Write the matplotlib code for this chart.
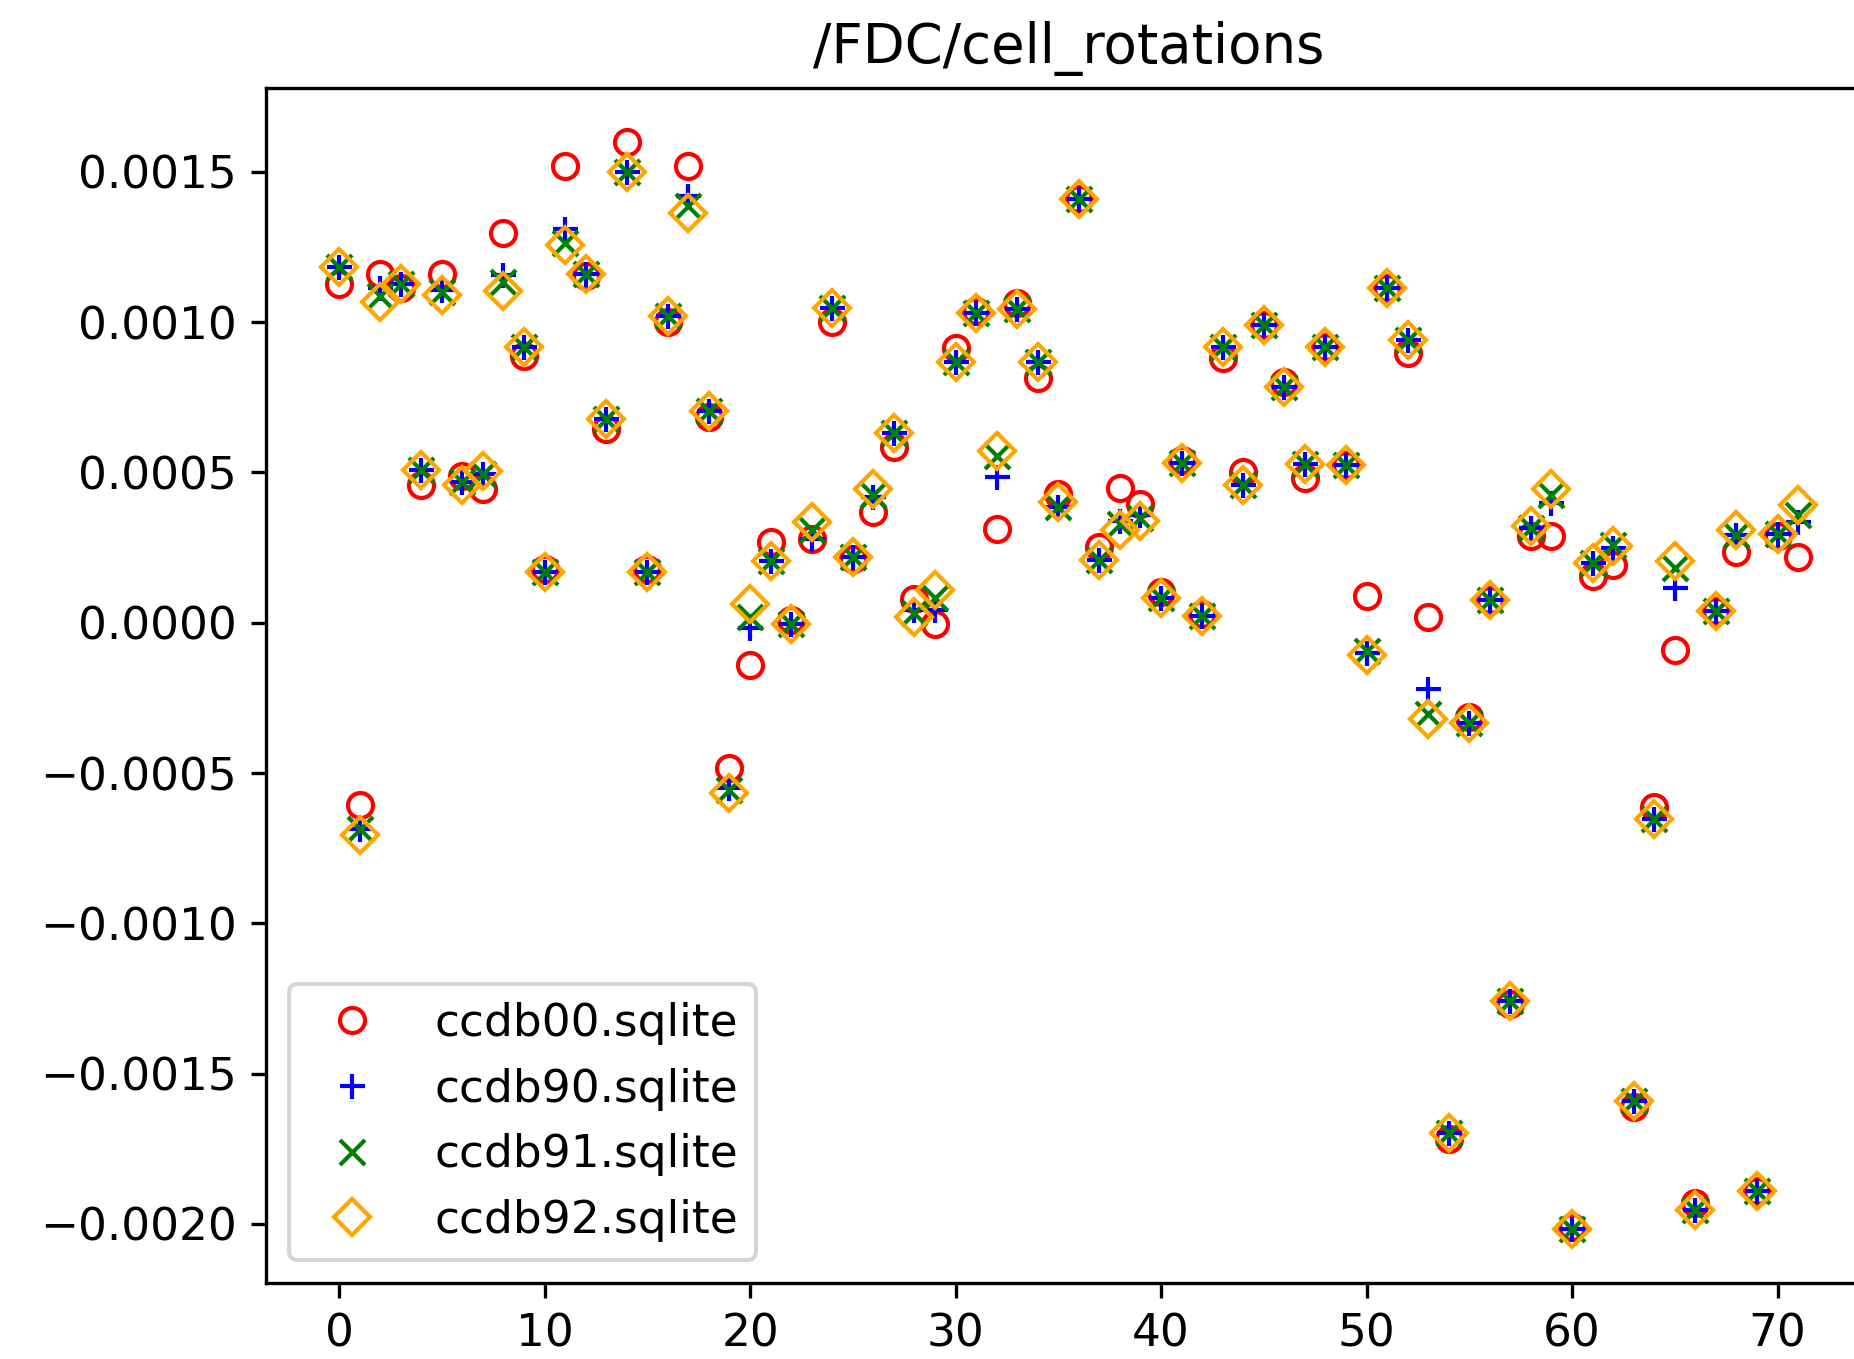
import matplotlib
matplotlib.use('Agg')
import matplotlib.pyplot as plt

# values in units of 1e-3
ccdb00 = [1.126, -0.606, 1.161, 1.114, 0.457, 1.161, 0.488, 0.445, 1.295, 0.886,
          0.180, 1.520, 1.155, 0.646, 1.598, 0.180, 1.000, 1.520, 0.685, -0.484,
          -0.142, 0.268, 0.008, 0.280, 1.000, 0.213, 0.370, 0.583, 0.079, -0.004,
          0.913, 1.037, 0.311, 1.063, 0.815, 0.429, 1.409, 0.252, 0.449, 0.394,
          0.102, 0.540, 0.030, 0.882, 0.500, 0.992, 0.800, 0.480, 0.917, 0.524,
          0.090, 1.114, 0.898, 0.020, -1.717, -0.315, 0.075, -1.268, 0.287, 0.287,
          -2.010, 0.154, 0.193, -1.610, -0.614, -0.091, -1.930, 0.039, 0.236, -1.890,
          0.290, 0.220]
ccdb90 = [1.185, -0.685, 1.114, 1.126, 0.508, 1.106, 0.469, 0.496, 1.157, 0.917,
          0.169, 1.311, 1.161, 0.677, 1.500, 0.169, 1.020, 1.421, 0.705, -0.551,
          -0.016, 0.205, -0.004, 0.280, 1.047, 0.217, 0.417, 0.630, 0.043, 0.043,
          0.866, 1.031, 0.484, 1.043, 0.866, 0.386, 1.409, 0.209, 0.339, 0.358,
          0.083, 0.531, 0.024, 0.917, 0.457, 0.992, 0.783, 0.528, 0.917, 0.524,
          -0.102, 1.114, 0.941, -0.220, -1.697, -0.335, 0.075, -1.260, 0.315, 0.398,
          -2.016, 0.200, 0.248, -1.591, -0.654, 0.114, -1.953, 0.039, 0.291, -1.890,
          0.295, 0.335]
ccdb91 = [1.185, -0.685, 1.087, 1.126, 0.508, 1.100, 0.469, 0.496, 1.134, 0.917,
          0.169, 1.264, 1.161, 0.677, 1.500, 0.169, 1.020, 1.386, 0.705, -0.555,
          0.020, 0.205, -0.004, 0.307, 1.047, 0.217, 0.425, 0.630, 0.031, 0.083,
          0.866, 1.031, 0.555, 1.043, 0.866, 0.386, 1.409, 0.209, 0.327, 0.350,
          0.083, 0.531, 0.024, 0.917, 0.457, 0.992, 0.783, 0.528, 0.917, 0.524,
          -0.095, 1.114, 0.941, -0.303, -1.697, -0.335, 0.075, -1.260, 0.315, 0.425,
          -2.016, 0.200, 0.260, -1.591, -0.654, 0.181, -1.953, 0.039, 0.291, -1.890,
          0.295, 0.358]
ccdb92 = [1.185, -0.705, 1.067, 1.126, 0.508, 1.090, 0.457, 0.504, 1.102, 0.917,
          0.169, 1.256, 1.161, 0.677, 1.500, 0.169, 1.020, 1.362, 0.705, -0.567,
          0.063, 0.205, -0.004, 0.335, 1.047, 0.217, 0.445, 0.630, 0.020, 0.110,
          0.866, 1.031, 0.571, 1.043, 0.866, 0.402, 1.409, 0.209, 0.307, 0.339,
          0.083, 0.531, 0.024, 0.917, 0.457, 0.992, 0.783, 0.528, 0.917, 0.524,
          -0.106, 1.114, 0.941, -0.319, -1.697, -0.335, 0.075, -1.260, 0.323, 0.445,
          -2.016, 0.200, 0.256, -1.591, -0.654, 0.205, -1.953, 0.039, 0.307, -1.890,
          0.295, 0.390]

names = ['ccdb00.sqlite', 'ccdb90.sqlite', 'ccdb91.sqlite', 'ccdb92.sqlite']
series = [ccdb00, ccdb90, ccdb91, ccdb92]
markers = ['o', '+', 'x', 'D']
colors = ['red', 'blue', 'green', 'orange']

plt.rcParams['font.size'] = 10.9

fig = plt.figure(figsize=(1854 / 300, 1359 / 300), dpi=300)
ax = fig.add_axes([0.1435, 0.0559, 0.8657, 0.8793])

x = list(range(len(ccdb00)))
for vals, name, m, c in zip(series, names, markers, colors):
    y = [v * 1e-3 for v in vals]
    if m in ('o', 'D'):
        ax.plot(x, y, m, color=c, mfc='none', label=name)
    else:
        ax.plot(x, y, m, color=c, label=name)

ax.set_title('/FDC/cell_rotations')
ax.legend(loc='lower left')
fig.savefig('out.png', dpi=300)
